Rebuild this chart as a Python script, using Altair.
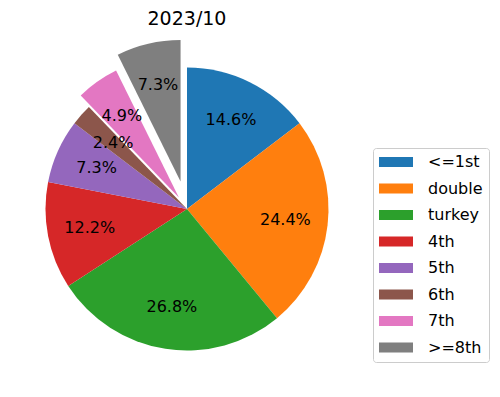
import altair as alt
import pandas as pd

categories = ["<=1st", "double", "turkey", "4th", "5th", "6th", "7th", ">=8th"]
counts = [6, 10, 11, 5, 3, 1, 2, 3]
explode = [0, 0, 0, 0, 0, 0, 0.1, 0.2]
colors = ["#1f77b4", "#ff7f0e", "#2ca02c", "#d62728", "#9467bd", "#8c564b", "#e377c2", "#7f7f7f"]
title_text = "2023/10"

# layout constants (plot-area pixels)
CX, CY, R = 179, 171, 141.5
LABEL_R = 0.7 * R

df = pd.DataFrame({"category": categories, "count": counts, "explode": explode,
                   "idx": list(range(len(categories)))})

base = alt.Chart(df).transform_window(
    cum="sum(count)", sort=[alt.SortField("idx")], frame=[None, 0]
).transform_joinaggregate(
    total="sum(count)"
).transform_calculate(
    t2="2*PI*datum.cum/datum.total",
    t1="2*PI*(datum.cum-datum.count)/datum.total",
).transform_calculate(
    mid="(datum.t1+datum.t2)/2",
    label="format(100*datum.count/datum.total, '.1f') + '%'",
).transform_calculate(
    px=f"{CX} + datum.explode*{R}*sin(datum.mid)",
    py=f"{CY} - datum.explode*{R}*cos(datum.mid)",
)

pos = dict(
    x=alt.X("px:Q", scale=None, axis=None),
    y=alt.Y("py:Q", scale=None, axis=None),
)

arcs = base.mark_arc(radius=R).encode(
    theta=alt.Theta("t1:Q", scale=None),
    theta2="t2:Q",
    color=alt.Color(
        "category:N",
        sort=categories,
        scale=alt.Scale(domain=categories, range=colors),
        legend=alt.Legend(
            title=None,
            orient="none",
            legendX=365,
            legendY=110,
            padding=6,
            labelFont="DejaVu Sans",
            labelFontSize=16,
            labelColor="black",
            symbolType="M-2.125,-0.625H2.125V0.625H-2.125Z",
            symbolSize=256,
            symbolStrokeWidth=0,
            symbolOpacity=1,
            symbolOffset=9,
            labelOffset=24,
            rowPadding=10.5,
            strokeColor="#cccccc",
            fillColor="white",
            cornerRadius=3,
        ),
    ),
    **pos,
)

labels = base.mark_text(
    radius=LABEL_R, font="DejaVu Sans", fontSize=16, color="black",
    align="center", baseline="middle",
).encode(
    theta=alt.Theta("mid:Q", scale=None),
    text="label:N",
    **pos,
)

chart = alt.layer(arcs, labels).properties(
    width=484,
    height=351,
    padding={"left": 0, "top": 30, "right": 0, "bottom": 0},
    autosize=alt.AutoSizeParams(type="none"),
    title=alt.TitleParams(
        title_text, font="DejaVu Sans", fontSize=19, fontWeight="normal",
        color="black", anchor="middle", dx=-63, offset=9,
    ),
).configure_view(stroke=None)

chart.save("out.html", embed_options={"renderer": "svg", "actions": False})
